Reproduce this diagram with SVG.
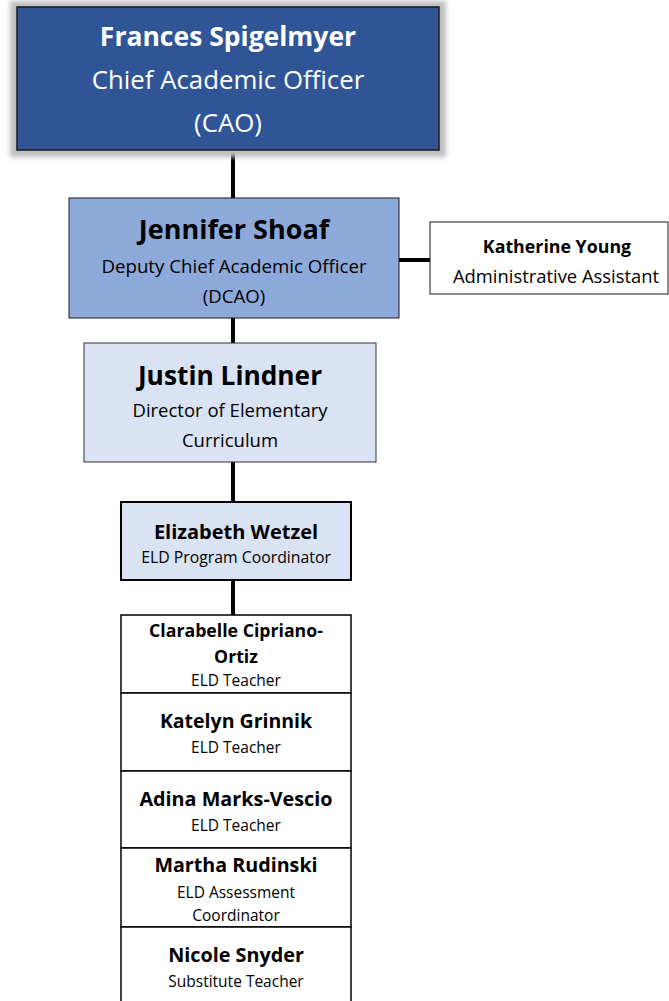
<svg xmlns="http://www.w3.org/2000/svg" width="669" height="1001" viewBox="0 0 669 1001">
  <defs>
    <filter id="soft" x="-10%" y="-10%" width="120%" height="120%">
      <feGaussianBlur stdDeviation="2.5"/>
    </filter>
  </defs>
  <style>
    text { font-family: "Open Sans", "Liberation Sans", sans-serif; text-anchor: middle; }
    .name { font-weight: bold; fill: #000; }
    .role { fill: #000; }
    .wt { fill: #fff; }
    .link { stroke: #000; stroke-width: 4; fill: none; }
  </style>
  <rect width="669" height="1001" fill="#fff"/>

  <!-- reporting lines -->
  <g id="connectors">
    <line class="link" x1="233" y1="150" x2="233" y2="198"/>
    <line class="link" x1="399" y1="260" x2="430" y2="260"/>
    <line class="link" x1="233" y1="318" x2="233" y2="343"/>
    <line class="link" x1="233" y1="462" x2="233" y2="502"/>
    <line class="link" x1="233" y1="580" x2="233" y2="615"/>
  </g>

  <g id="cao">
    <rect x="10" y="1" width="436" height="156" fill="#bdbdbd" filter="url(#soft)"/>
    <rect x="17" y="7" width="422" height="143" fill="#2F5597" stroke="#1a1a1a" stroke-width="1.5"/>
    <text class="name wt" x="228" y="46" font-size="26.5">Frances Spigelmyer</text>
    <text class="wt" x="228" y="89" font-size="25.8">Chief Academic Officer</text>
    <text class="wt" x="228" y="132" font-size="25.8">(CAO)</text>
  </g>

  <g id="dcao">
    <rect x="69" y="198" width="330" height="120" fill="#8EAADB" stroke="#1a1a1a" stroke-width="1"/>
    <text class="name" x="234" y="239" font-size="27">Jennifer Shoaf</text>
    <text class="role" x="234" y="273" font-size="18.7">Deputy Chief Academic Officer</text>
    <text class="role" x="234" y="303" font-size="18.7">(DCAO)</text>
  </g>

  <g id="assistant">
    <rect x="430" y="222" width="238" height="72" fill="#fff" stroke="#1a1a1a" stroke-width="1"/>
    <text class="name" x="557" y="253" font-size="17.8">Katherine Young</text>
    <text class="role" x="556" y="283" font-size="18.4">Administrative Assistant</text>
  </g>

  <g id="director">
    <rect x="84" y="343" width="292" height="119" fill="#DAE3F3" stroke="#333" stroke-width="1"/>
    <text class="name" x="230" y="385" font-size="26.3">Justin Lindner</text>
    <text class="role" x="230" y="417" font-size="18.5">Director of Elementary</text>
    <text class="role" x="230" y="447" font-size="18.5">Curriculum</text>
  </g>

  <g id="coordinator">
    <rect x="121" y="502" width="230" height="78" fill="#DAE3F3" stroke="#000" stroke-width="2"/>
    <text class="name" x="236" y="539" font-size="20">Elizabeth Wetzel</text>
    <text class="role" x="236" y="563" font-size="15.8">ELD Program Coordinator</text>
  </g>

  <g id="teacher-cipriano-ortiz">
    <rect x="121" y="615" width="230" height="78" fill="#fff" stroke="#000" stroke-width="1.5"/>
    <text class="name" x="236" y="637" font-size="17.7">Clarabelle Cipriano-</text>
    <text class="name" x="236" y="663" font-size="17.7">Ortiz</text>
    <text class="role" x="236" y="686" font-size="15.5">ELD Teacher</text>
  </g>

  <g id="teacher-grinnik">
    <rect x="121" y="693" width="230" height="78" fill="#fff" stroke="#000" stroke-width="1.5"/>
    <text class="name" x="236" y="728" font-size="19.5">Katelyn Grinnik</text>
    <text class="role" x="236" y="753" font-size="15.5">ELD Teacher</text>
  </g>

  <g id="teacher-marks-vescio">
    <rect x="121" y="771" width="230" height="77" fill="#fff" stroke="#000" stroke-width="1.5"/>
    <text class="name" x="236" y="806" font-size="19.8">Adina Marks-Vescio</text>
    <text class="role" x="236" y="831" font-size="15.5">ELD Teacher</text>
  </g>

  <g id="assessment-rudinski">
    <rect x="121" y="848" width="230" height="79" fill="#fff" stroke="#000" stroke-width="1.5"/>
    <text class="name" x="236" y="872" font-size="19.7">Martha Rudinski</text>
    <text class="role" x="236" y="898" font-size="15.5">ELD Assessment</text>
    <text class="role" x="236" y="921" font-size="15.5">Coordinator</text>
  </g>

  <g id="substitute-snyder">
    <rect x="121" y="927" width="230" height="80" fill="#fff" stroke="#000" stroke-width="1.5"/>
    <text class="name" x="236" y="962" font-size="19.8">Nicole Snyder</text>
    <text class="role" x="236" y="987" font-size="15.5">Substitute Teacher</text>
  </g>
</svg>
